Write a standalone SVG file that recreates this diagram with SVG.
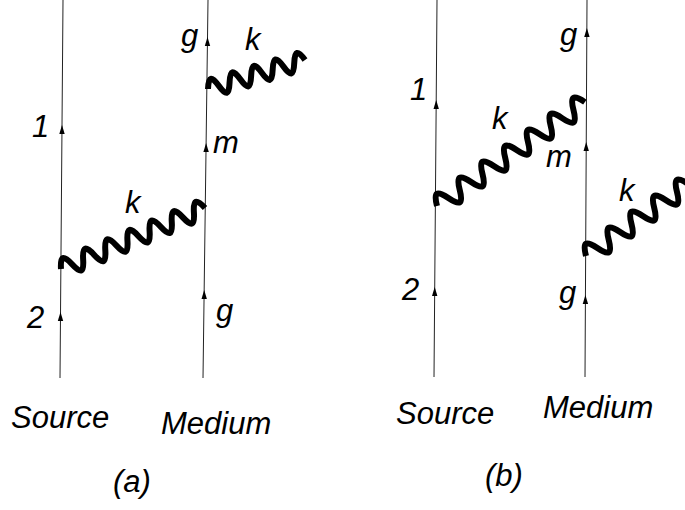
<svg xmlns="http://www.w3.org/2000/svg" width="685" height="510" viewBox="0 0 685 510">
<style>
.ln{stroke:#222;stroke-width:1;fill:none}
.wv{stroke:#000;stroke-width:6;fill:none;stroke-linecap:butt;stroke-linejoin:round}
.ah{fill:#000}
.lb{font-family:"Liberation Sans",Arial,sans-serif;font-style:italic;font-size:31px;fill:#000}
.bl{font-family:"Liberation Sans",Arial,sans-serif;font-style:italic;font-size:31px;fill:#000}
</style>
<defs>
<path id="arr" d="M0,0 L2.7,9 L-2.7,9 Z"/>
<path id="wA" d="M0,0 c4.33,-12.4 7.7,-12.4 12.03,0 s7.7,12.4 12.03,0 s7.7,-12.4 12.03,0 s7.7,12.4 12.03,0 s7.7,-12.4 12.03,0 s7.7,12.4 12.03,0 s7.7,-12.4 12.03,0 s7.7,12.4 12.03,0 s7.7,-12.4 12.03,0 s7.7,12.4 12.03,0 s7.7,-12.4 12.03,0 s7.7,12.4 12.03,0 s7.7,-12.4 12.03,0"/>
<path id="wB" d="M0,0 c4.05,-12 7.2,-12 11.25,0 s7.2,12 11.25,0 s7.2,-12 11.25,0 s7.2,12 11.25,0 s7.2,-12 11.25,0 s7.2,12 11.25,0 s7.2,-12 11.25,0 s7.2,12 11.25,0 s7.2,-12 11.25,0"/>
<path id="wC" d="M0,0 c5.0,-13.4 8.9,-13.4 13.9,0 s8.9,13.4 13.9,0 s8.9,-13.4 13.9,0 s8.9,13.4 13.9,0 s8.9,-13.4 13.9,0 s8.9,13.4 13.9,0 s8.9,-13.4 13.9,0 s8.9,13.4 13.9,0 s8.9,-13.4 13.9,0 s8.9,13.4 13.9,0 s8.9,-13.4 13.9,0 s8.9,13.4 13.9,0 s8.9,-13.4 13.9,0"/>
</defs>

<g id="connectors">
<line class="ln" x1="63" y1="0" x2="60" y2="378"/>
<line class="ln" x1="208" y1="0" x2="203" y2="378"/>
<line class="ln" x1="437" y1="0" x2="434" y2="377"/>
<line class="ln" x1="587" y1="0" x2="585" y2="377"/>
<use href="#arr" class="ah" x="62" y="125"/>
<use href="#arr" class="ah" x="60.5" y="312"/>
<use href="#arr" class="ah" x="207.5" y="37"/>
<use href="#arr" class="ah" x="206.1" y="143"/>
<use href="#arr" class="ah" x="204.2" y="290"/>
<use href="#arr" class="ah" x="436.2" y="100"/>
<use href="#arr" class="ah" x="434.7" y="287"/>
<use href="#arr" class="ah" x="586.9" y="28"/>
<use href="#arr" class="ah" x="586.2" y="142"/>
<use href="#arr" class="ah" x="585.4" y="295"/>
<use href="#wA" class="wv" transform="translate(61,269) rotate(-22.96)"/>
<use href="#wB" class="wv" transform="translate(208,89) rotate(-16.65)"/>
<use href="#wC" class="wv" transform="translate(437,206) rotate(-35.09)"/>
<use href="#wC" class="wv" transform="translate(586,256) rotate(-35.09)"/>
</g>

<g id="labels-a">
<text class="lb" x="181" y="46">g</text>
<text class="lb" x="245" y="50">k</text>
<text class="lb" x="32" y="137">1</text>
<text class="lb" x="213" y="153">m</text>
<text class="lb" x="125" y="213">k</text>
<text class="lb" x="27" y="328">2</text>
<text class="lb" x="216" y="321">g</text>
<text class="bl" x="11" y="428">Source</text>
<text class="bl" x="161" y="434">Medium</text>
<text class="bl" x="113" y="492">(a)</text>
</g>

<g id="labels-b">
<text class="lb" x="560" y="45">g</text>
<text class="lb" x="410" y="100">1</text>
<text class="lb" x="492" y="129">k</text>
<text class="lb" x="546" y="167">m</text>
<text class="lb" x="619" y="201">k</text>
<text class="lb" x="402" y="300">2</text>
<text class="lb" x="559" y="303">g</text>
<text class="bl" x="396" y="424">Source</text>
<text class="bl" x="543" y="418">Medium</text>
<text class="bl" x="485" y="486">(b)</text>
</g>
</svg>
